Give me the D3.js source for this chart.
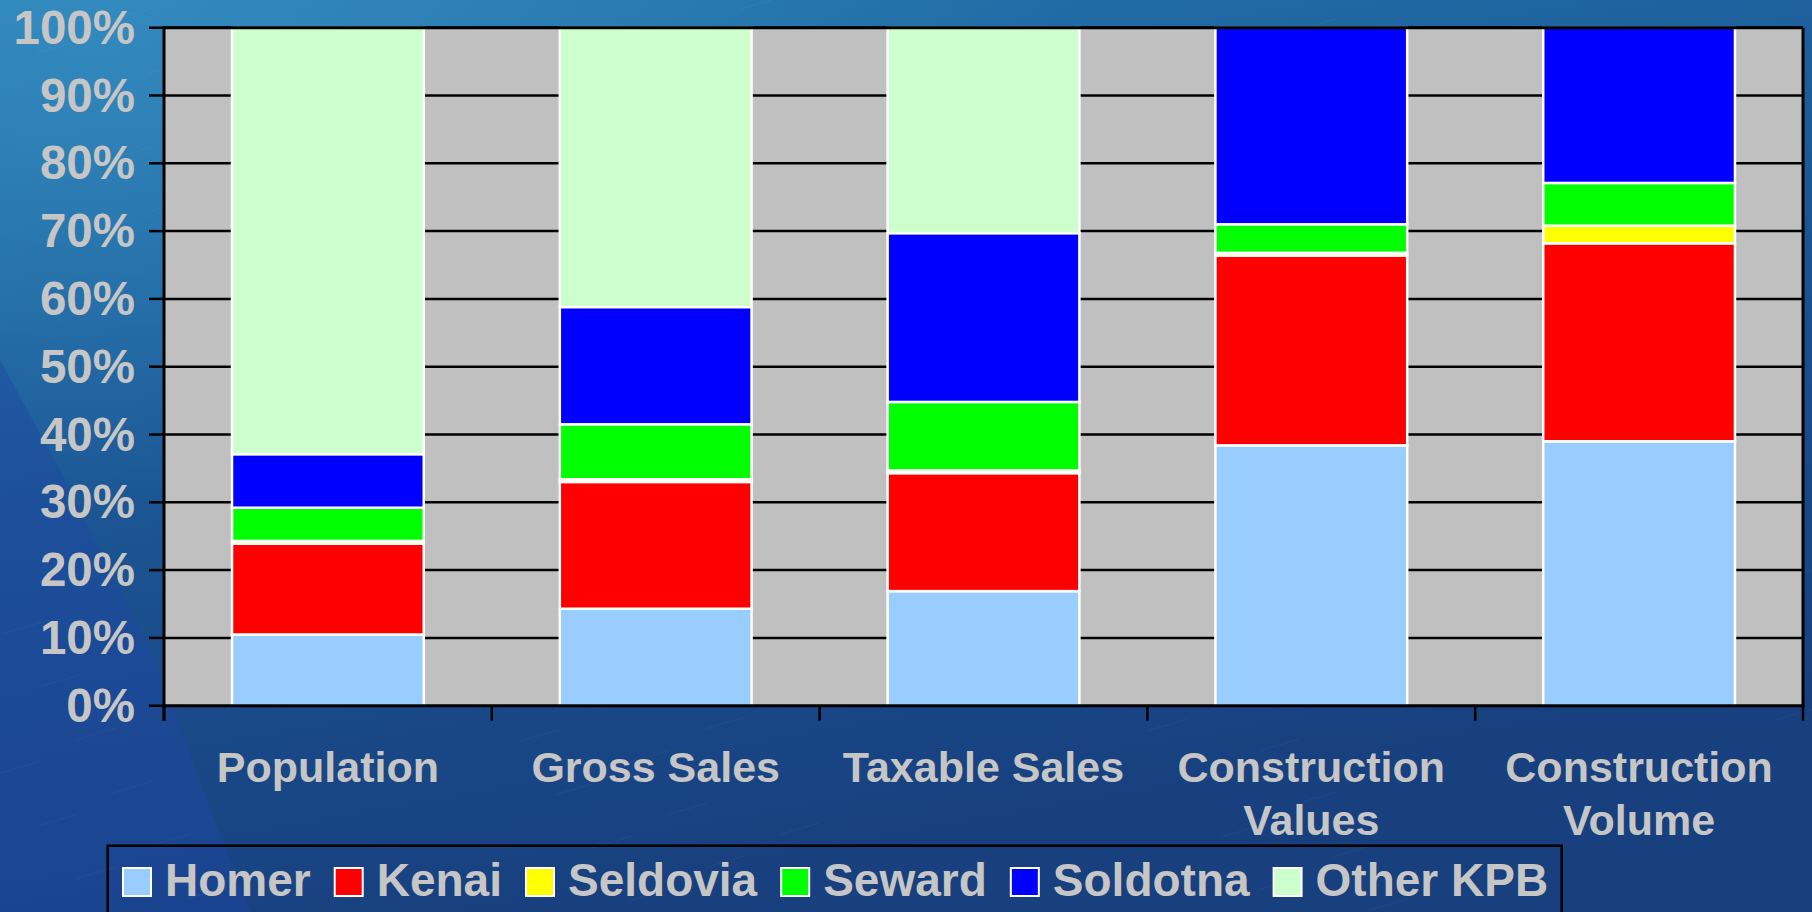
<!DOCTYPE html>
<html>
<head>
<meta charset="utf-8">
<script src="https://cdn.jsdelivr.net/npm/d3@7"></script>
<style>
  html, body { margin: 0; padding: 0; background: #1b4a88; overflow: hidden; }
  svg { display: block; }
  text { font-family: "Liberation Sans", Arial, sans-serif; font-weight: bold; fill: #c6c6c6; }
</style>
</head>
<body>
<svg id="chart" width="1812" height="912"></svg>
<script>
// ---- data ----
const categories = ["Population", "Gross Sales", "Taxable Sales", "Construction Values", "Construction Volume"];
const categoryLines = [["Population"], ["Gross Sales"], ["Taxable Sales"], ["Construction", "Values"], ["Construction", "Volume"]];
const seriesNames = ["Homer", "Kenai", "Seldovia", "Seward", "Soldotna", "Other KPB"];
const homer    = [10.5, 14.3, 16.9, 38.4, 39.0];
const kenai    = [13.4, 18.7, 17.4, 28.0, 29.2];
const seldovia = [0.4, 0.4, 0.4, 0.4, 2.6];
const seward   = [4.9, 8.1, 10.1, 4.2, 6.3];
const soldotna = [7.9, 17.3, 24.9, 29.0, 22.9];
const otherKPB = [62.9, 41.2, 30.3, 0.0, 0.0];
const yTicks = [0, 10, 20, 30, 40, 50, 60, 70, 80, 90, 100];
const seriesColors = ["#99ccff", "#ff0000", "#ffff00", "#00ff00", "#0000ff", "#ccffcc"];

const seriesValues = [homer, kenai, seldovia, seward, soldotna, otherKPB];
const rows = categories.map((c, i) => {
  const r = { category: c };
  seriesNames.forEach((s, j) => { r[s] = seriesValues[j][i]; });
  return r;
});

// ---- layout ----
const W = 1812, H = 912;
const plot = { left: 164, right: 1803, top: 27.7, bottom: 705.7 };

const svg = d3.select("#chart");
const defs = svg.append("defs");

// background
const bg = defs.append("linearGradient").attr("id", "bgGrad").attr("x1", 0).attr("y1", 0).attr("x2", 0.35).attr("y2", 1);
bg.append("stop").attr("offset", "0%").attr("stop-color", "#2479b0");
bg.append("stop").attr("offset", "35%").attr("stop-color", "#1d5f9c");
bg.append("stop").attr("offset", "70%").attr("stop-color", "#1a4b8a");
bg.append("stop").attr("offset", "100%").attr("stop-color", "#183f7e");
svg.append("rect").attr("width", W).attr("height", H).attr("fill", "url(#bgGrad)");

const glow = defs.append("radialGradient").attr("id", "glow").attr("cx", 0.05).attr("cy", 0.0).attr("r", 0.55);
glow.append("stop").attr("offset", "0%").attr("stop-color", "#3a92c4").attr("stop-opacity", 0.7);
glow.append("stop").attr("offset", "100%").attr("stop-color", "#3a92c4").attr("stop-opacity", 0);
svg.append("rect").attr("width", W).attr("height", H).attr("fill", "url(#glow)");

// lower-left diagonal band
svg.append("path")
  .attr("d", `M0,360 L60,470 L150,650 L250,912 L0,912 Z`)
  .attr("fill", "#1f46a2").attr("opacity", 0.45);

// faint diagonal streak texture
const streakG = svg.append("g").attr("opacity", 0.035).attr("stroke", "#ffffff").attr("stroke-width", 1);
const streaks = d3.range(0, 120);
streakG.selectAll("line").data(streaks).join("line")
  .attr("x1", d => (d * 37) % W)
  .attr("y1", d => (d * 53) % H)
  .attr("x2", d => (d * 37) % W + 40)
  .attr("y2", d => (d * 53) % H - 12);

// scales
const x = d3.scaleBand().domain(categories).range([plot.left, plot.right]).paddingInner(0.415).paddingOuter(0.2075);
const xEdges = d3.scaleBand().domain(categories).range([plot.left, plot.right]).padding(0);
const y = d3.scaleLinear().domain([0, 100]).range([plot.bottom, plot.top]);

// plot area
svg.append("rect")
  .attr("x", plot.left).attr("y", plot.top)
  .attr("width", plot.right - plot.left).attr("height", plot.bottom - plot.top)
  .attr("fill", "#c0c0c0");

// gridlines
svg.append("g").selectAll("line").data(yTicks.filter(t => t > 0)).join("line")
  .attr("x1", plot.left).attr("x2", plot.right)
  .attr("y1", d => y(d)).attr("y2", d => y(d))
  .attr("stroke", "#000").attr("stroke-width", 2.5);

// bars
const stack = d3.stack().keys(seriesNames)(rows);
svg.append("g").selectAll("g").data(stack).join("g")
  .attr("fill", (d, i) => seriesColors[i])
  .selectAll("rect").data(d => d.filter(p => p[1] - p[0] > 0)).join("rect")
  .attr("x", d => x(d.data.category))
  .attr("width", x.bandwidth())
  .attr("y", d => y(d[1]))
  .attr("height", d => y(d[0]) - y(d[1]))
  .attr("stroke", "#ffffff").attr("stroke-width", 2.5);

// right border
svg.append("line")
  .attr("x1", plot.right).attr("x2", plot.right)
  .attr("y1", plot.top).attr("y2", plot.bottom)
  .attr("stroke", "#000").attr("stroke-width", 3);
// top border
svg.append("line")
  .attr("x1", plot.left).attr("x2", plot.right)
  .attr("y1", plot.top).attr("y2", plot.top)
  .attr("stroke", "#000").attr("stroke-width", 3);

// y axis
const yAxis = svg.append("g");
yAxis.append("line")
  .attr("x1", plot.left).attr("x2", plot.left)
  .attr("y1", plot.top - 1.5).attr("y2", plot.bottom + 15)
  .attr("stroke", "#000").attr("stroke-width", 3);
yAxis.selectAll("line.tick").data(yTicks).join("line").attr("class", "tick")
  .attr("x1", plot.left - 15).attr("x2", plot.left)
  .attr("y1", d => y(d)).attr("y2", d => y(d))
  .attr("stroke", "#000").attr("stroke-width", 2.5);
yAxis.selectAll("text").data(yTicks).join("text")
  .attr("x", plot.left - 29)
  .attr("y", d => y(d) + 16)
  .attr("text-anchor", "end")
  .attr("font-size", 47.5)
  .text(d => d + "%");

// x axis
const xAxis = svg.append("g");
xAxis.append("line")
  .attr("x1", plot.left).attr("x2", plot.right + 1.5)
  .attr("y1", plot.bottom).attr("y2", plot.bottom)
  .attr("stroke", "#000").attr("stroke-width", 3);
const edgeVals = categories.map(c => xEdges(c)).concat([plot.right]);
xAxis.selectAll("line.tick").data(edgeVals).join("line").attr("class", "tick")
  .attr("x1", d => d).attr("x2", d => d)
  .attr("y1", plot.bottom).attr("y2", plot.bottom + 15)
  .attr("stroke", "#000").attr("stroke-width", 2.5);
const catText = xAxis.selectAll("text").data(categories).join("text")
  .attr("x", d => xEdges(d) + xEdges.bandwidth() / 2)
  .attr("y", 781.7)
  .attr("text-anchor", "middle")
  .attr("font-size", 43);
catText.each(function(d, i) {
  const t = d3.select(this);
  categoryLines[i].forEach((ln, k) => {
    t.append("tspan")
      .attr("x", xEdges(d) + xEdges.bandwidth() / 2)
      .attr("dy", k === 0 ? 0 : 53.3)
      .text(ln);
  });
});

// legend
const legend = svg.append("g");
legend.append("rect")
  .attr("x", 107.7).attr("y", 845.7)
  .attr("width", 1561.7 - 107.7).attr("height", 80)
  .attr("fill", "none").attr("stroke", "#000").attr("stroke-width", 2.5);
let lx = 123;
seriesNames.forEach((name, i) => {
  legend.append("rect")
    .attr("x", lx).attr("y", 868)
    .attr("width", 28).attr("height", 28)
    .attr("fill", seriesColors[i])
    .attr("stroke", "#ffffff").attr("stroke-width", 2);
  const t = legend.append("text")
    .attr("x", lx + 28 + 14).attr("y", 896)
    .attr("font-size", 46)
    .text(name);
  const w = t.node().getComputedTextLength();
  lx = lx + 28 + 14 + w + 24;
});
</script>
</body>
</html>
